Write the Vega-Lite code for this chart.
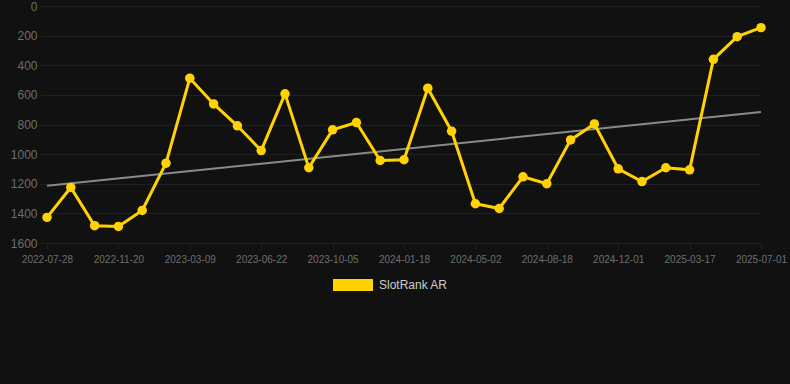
{
  "$schema": "https://vega.github.io/schema/vega-lite/v6.json",
  "autosize": "none",
  "width": 714,
  "height": 237,
  "padding": {"left": 47, "top": 6, "right": 29, "bottom": 141},
  "background": "#111111",
  "config": {
    "view": {"stroke": null},
    "font": "Liberation Sans",
    "axis": {
      "gridColor": "#202020",
      "gridWidth": 1,
      "tickColor": "#202020",
      "domain": false,
      "labelColor": "#6e6e6e",
      "labelFont": "Liberation Sans"
    }
  },
  "datasets": {
    "rank": [
      {"date": "2022-07-28", "rank": 1427, "series": "SlotRank AR"},
      {"date": "2022-09-05", "rank": 1225, "series": "SlotRank AR"},
      {"date": "2022-10-13", "rank": 1483, "series": "SlotRank AR"},
      {"date": "2022-11-20", "rank": 1488, "series": "SlotRank AR"},
      {"date": "2022-12-26", "rank": 1380, "series": "SlotRank AR"},
      {"date": "2023-01-31", "rank": 1061, "series": "SlotRank AR"},
      {"date": "2023-03-09", "rank": 487, "series": "SlotRank AR"},
      {"date": "2023-04-13", "rank": 661, "series": "SlotRank AR"},
      {"date": "2023-05-18", "rank": 809, "series": "SlotRank AR"},
      {"date": "2023-06-22", "rank": 976, "series": "SlotRank AR"},
      {"date": "2023-07-27", "rank": 593, "series": "SlotRank AR"},
      {"date": "2023-08-31", "rank": 1092, "series": "SlotRank AR"},
      {"date": "2023-10-05", "rank": 836, "series": "SlotRank AR"},
      {"date": "2023-11-09", "rank": 787, "series": "SlotRank AR"},
      {"date": "2023-12-14", "rank": 1043, "series": "SlotRank AR"},
      {"date": "2024-01-18", "rank": 1038, "series": "SlotRank AR"},
      {"date": "2024-02-22", "rank": 555, "series": "SlotRank AR"},
      {"date": "2024-03-28", "rank": 845, "series": "SlotRank AR"},
      {"date": "2024-05-02", "rank": 1335, "series": "SlotRank AR"},
      {"date": "2024-06-07", "rank": 1367, "series": "SlotRank AR"},
      {"date": "2024-07-13", "rank": 1153, "series": "SlotRank AR"},
      {"date": "2024-08-18", "rank": 1200, "series": "SlotRank AR"},
      {"date": "2024-09-22", "rank": 904, "series": "SlotRank AR"},
      {"date": "2024-10-27", "rank": 796, "series": "SlotRank AR"},
      {"date": "2024-12-01", "rank": 1099, "series": "SlotRank AR"},
      {"date": "2025-01-05", "rank": 1185, "series": "SlotRank AR"},
      {"date": "2025-02-09", "rank": 1092, "series": "SlotRank AR"},
      {"date": "2025-03-17", "rank": 1106, "series": "SlotRank AR"},
      {"date": "2025-04-21", "rank": 360, "series": "SlotRank AR"},
      {"date": "2025-05-26", "rank": 207, "series": "SlotRank AR"},
      {"date": "2025-07-01", "rank": 146, "series": "SlotRank AR"}
    ],
    "trend": [
      {"date": "2022-07-28", "rank": 1214},
      {"date": "2025-07-01", "rank": 715}
    ]
  },
  "encoding": {
    "x": {
      "field": "date",
      "type": "ordinal",
      "scale": {"type": "point", "padding": 0},
      "axis": {
        "title": null,
        "labelAngle": 0,
        "labelFontSize": 10,
        "labelPadding": 5,
        "tickSize": 6,
        "values": ["2022-07-28", "2022-11-20", "2023-03-09", "2023-06-22", "2023-10-05", "2024-01-18", "2024-05-02", "2024-08-18", "2024-12-01", "2025-03-17", "2025-07-01"]
      }
    },
    "y": {
      "field": "rank",
      "type": "quantitative",
      "scale": {"domain": [0, 1600], "reverse": true, "nice": false},
      "axis": {
        "title": null,
        "format": "d",
        "values": [0, 200, 400, 600, 800, 1000, 1200, 1400, 1600],
        "labelFontSize": 12,
        "tickSize": 8,
        "labelPadding": 2
      }
    }
  },
  "layer": [
    {
      "data": {"name": "trend"},
      "mark": {"type": "line", "color": "#8a8a8a", "strokeWidth": 2}
    },
    {
      "data": {"name": "rank"},
      "mark": {"type": "line", "strokeWidth": 3},
      "encoding": {
        "color": {
          "field": "series",
          "type": "nominal",
          "scale": {"range": ["#FFD200"]},
          "legend": {
            "title": null,
            "orient": "none",
            "legendX": 286,
            "legendY": 259,
            "padding": 0,
            "symbolType": "M-1,-0.3H1V0.3H-1Z",
            "symbolSize": 1600,
            "symbolFillColor": "#FFD200",
            "symbolStrokeWidth": 0,
            "symbolOpacity": 1,
            "labelFontSize": 12,
            "labelColor": "#cccccc",
            "labelOffset": 6
          }
        }
      }
    },
    {
      "data": {"name": "rank"},
      "mark": {"type": "point", "filled": true, "size": 90, "opacity": 1},
      "encoding": {
        "color": {"field": "series", "type": "nominal"}
      }
    }
  ]
}
